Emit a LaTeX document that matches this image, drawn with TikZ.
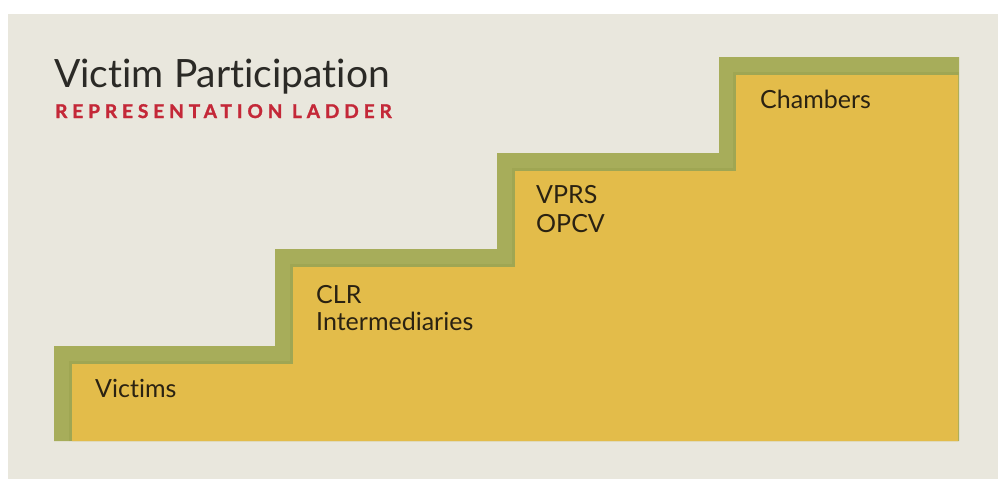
\documentclass[tikz,border=0pt]{standalone}
\usepackage{fontspec}
\setmainfont[Ligatures={NoCommon,NoRare}]{Lato}
\newfontfamily\subfont[LetterSpace=26,FakeBold=1.5]{Lato}
\definecolor{paper}{HTML}{E9E7DD}
\definecolor{stepgreen}{HTML}{A7AD5A}
\definecolor{stepgreendark}{HTML}{979E4C}
\definecolor{stepyellow}{HTML}{E3BC4A}
\definecolor{inkdark}{HTML}{2B2A26}
\definecolor{labelink}{HTML}{2A2212}
\definecolor{subred}{HTML}{C42838}
\tikzset{
  steplabel/.style={anchor=base west, inner sep=0pt, text=labelink, font=\fontsize{25}{29}\selectfont, align=left},
}
\begin{document}
\begin{tikzpicture}[x=1pt,y=-1pt]
\useasboundingbox (0,0) rectangle (998,479);
\fill[white] (0,0) rectangle (998,479);
\fill[paper] (8,14) rectangle (998,479);
% green staircase
\fill[stepgreen] (54,441) -- (54,346) -- (275,346) -- (275,249) -- (497,249) -- (497,153) -- (719,153) -- (719,57) -- (959,57) -- (959,441) -- cycle;
% subtle inner shade
\draw[stepgreendark, line width=3pt, opacity=0.45] (70.5,441) -- (70.5,362.5) -- (291.5,362.5) -- (291.5,265.5) -- (513.5,265.5) -- (513.5,169.5) -- (734.5,169.5) -- (734.5,73.5) -- (959,73.5);
% yellow staircase
\fill[stepyellow] (72,441) -- (72,364) -- (293,364) -- (293,267) -- (515,267) -- (515,171) -- (736,171) -- (736,75) -- (958,75) -- (958,441) -- cycle;
% title
\node[anchor=base west, inner sep=0pt, text=inkdark, font=\fontsize{39}{44}\selectfont] (title) at (54,87) {Victim Participation};
\node[anchor=base west, inner sep=0pt, text=subred, font=\subfont\bfseries\fontsize{19}{22}\selectfont] (subtitle) at (55,118) {REPRESENTATION LADDER};
% labels
\node[steplabel] (chambers) at (760,108) {Chambers};
\node[steplabel] (vprs) at (536,203) {VPRS};
\node[steplabel] (opcv) at (536,232) {OPCV};
\node[steplabel] (clr) at (316,303) {CLR};
\node[steplabel] (interm) at (316,330) {Intermediaries};
\node[steplabel] (victims) at (95,397) {Victims};
\end{tikzpicture}
\end{document}
